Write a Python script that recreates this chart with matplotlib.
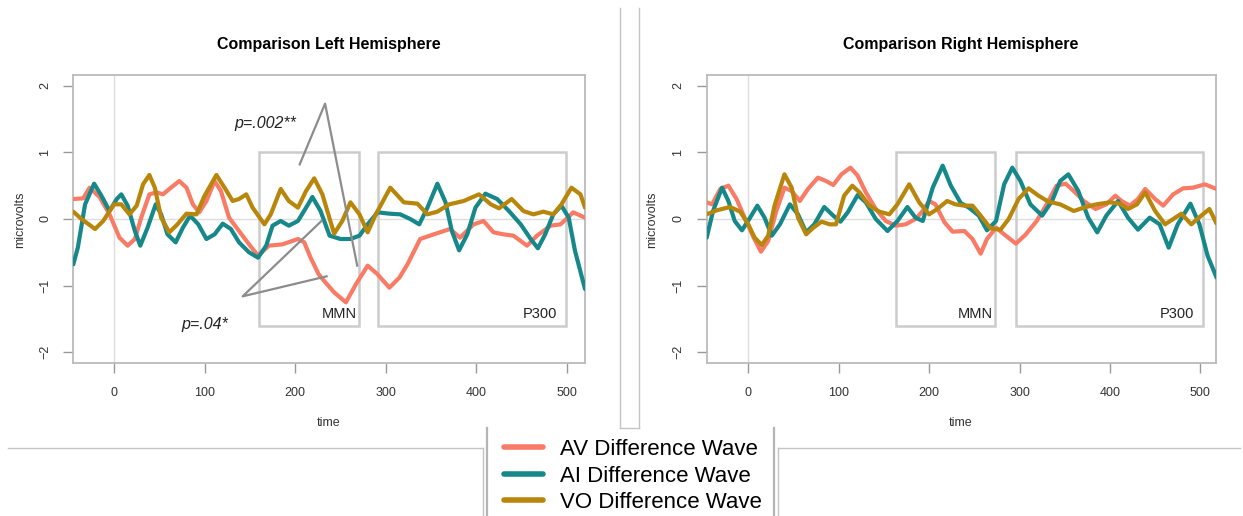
import matplotlib
matplotlib.use("Agg")
import matplotlib.pyplot as plt
from matplotlib.lines import Line2D
from matplotlib.patches import Rectangle

W, H = 1243, 516

# --- data (time in ms, amplitude in microvolts) ---
left_av_t = [-45, -34, -27, -16, -5, 6, 15, 23, 30, 39, 47, 54, 61, 72, 80, 87, 94, 102, 111, 118,
             127, 138, 149, 159, 171, 186, 203, 210, 217, 226, 232, 243, 256, 267, 280, 291, 304, 315,
             324, 338, 353, 371, 382, 397, 408, 419, 430, 441, 456, 467, 482, 493, 507, 520]
left_av_v = [0.30, 0.31, 0.47, 0.33, 0.07, -0.28, -0.40, -0.30, 0.02, 0.37, 0.40, 0.37, 0.45, 0.57,
             0.47, 0.22, 0.10, 0.27, 0.57, 0.42, 0.02, -0.18, -0.38, -0.55, -0.40, -0.38, -0.30,
             -0.35, -0.58, -0.83, -0.93, -1.10, -1.25, -0.98, -0.70, -0.83, -1.03, -0.88, -0.68,
             -0.30, -0.23, -0.15, -0.28, -0.08, -0.03, -0.20, -0.23, -0.25, -0.40, -0.25, -0.10,
             -0.08, 0.10, 0.02]

left_ai_t = [-45, -40, -32, -22, -14, -5, 3, 8, 15, 23, 29, 37, 46, 52, 59, 68, 76, 84, 93, 102,
             111, 120, 129, 138, 149, 159, 168, 175, 184, 193, 203, 212, 219, 228, 238, 250, 261,
             271, 280, 291, 304, 316, 327, 337, 346, 357, 366, 373, 381, 390, 399, 410, 423, 436,
             449, 460, 468, 476, 485, 494, 502, 509, 520]
left_ai_v = [-0.68, -0.43, 0.22, 0.53, 0.35, 0.12, 0.30, 0.37, 0.20, -0.18, -0.40, -0.13, 0.22,
             0.07, -0.23, -0.35, -0.13, 0.05, -0.08, -0.30, -0.23, -0.07, -0.15, -0.35, -0.50,
             -0.58, -0.40, -0.10, -0.03, -0.10, -0.03, 0.17, 0.33, 0.12, -0.25, -0.30, -0.30,
             -0.25, -0.08, 0.10, 0.08, 0.07, 0.0, -0.08, 0.17, 0.53, 0.25, -0.18, -0.47, -0.23,
             0.17, 0.38, 0.30, 0.12, -0.08, -0.30, -0.44, -0.23, 0.07, 0.20, 0.02, -0.48, -1.05]

left_vo_t = [-45, -36, -21, -12, 0, 8, 17, 25, 32, 39, 45, 52, 61, 70, 80, 91, 100, 113, 122, 131,
             138, 146, 153, 166, 173, 184, 193, 203, 212, 221, 230, 243, 252, 261, 271, 280, 289,
             305, 320, 335, 346, 357, 370, 386, 403, 416, 425, 439, 452, 463, 474, 485, 494, 505,
             515, 520]
left_vo_v = [0.11, 0.0, -0.15, -0.03, 0.22, 0.22, 0.07, 0.20, 0.52, 0.66, 0.47, 0.02, -0.20, -0.08,
             0.08, 0.07, 0.35, 0.66, 0.47, 0.27, 0.30, 0.37, 0.17, -0.08, 0.07, 0.45, 0.27, 0.17,
             0.42, 0.61, 0.37, -0.22, -0.03, 0.25, 0.07, -0.20, 0.07, 0.47, 0.25, 0.23, 0.07, 0.11,
             0.22, 0.27, 0.37, 0.22, 0.16, 0.30, 0.12, 0.07, 0.11, 0.07, 0.22, 0.47, 0.37, 0.17]

right_av_t = [-46, -40, -31, -22, -13, -4, 6, 14, 22, 31, 40, 48, 57, 66, 77, 86, 94, 103, 113, 121,
              130, 141, 152, 163, 174, 185, 193, 200, 207, 217, 226, 239, 248, 257, 264, 274, 283,
              296, 307, 319, 330, 341, 351, 360, 371, 384, 396, 406, 413, 422, 431, 439, 450, 459,
              470, 481, 492, 505, 518]
right_av_v = [0.25, 0.22, 0.45, 0.50, 0.30, 0.02, -0.28, -0.49, -0.33, 0.12, 0.47, 0.42, 0.27, 0.45,
              0.62, 0.57, 0.51, 0.67, 0.77, 0.65, 0.40, 0.15, -0.03, -0.10, -0.08, 0.0, 0.12, 0.27,
              0.22, -0.05, -0.19, -0.18, -0.30, -0.52, -0.30, -0.13, -0.23, -0.37, -0.23, -0.03,
              0.22, 0.50, 0.53, 0.42, 0.27, 0.15, 0.22, 0.35, 0.27, 0.20, 0.30, 0.45, 0.30, 0.20,
              0.37, 0.46, 0.47, 0.52, 0.45]

right_ai_t = [-46, -39, -29, -22, -15, -7, 2, 10, 18, 26, 35, 46, 55, 64, 73, 84, 94, 102, 110, 121,
              130, 141, 154, 165, 176, 185, 193, 204, 215, 224, 235, 244, 255, 264, 274, 283, 292,
              301, 312, 325, 336, 345, 354, 365, 376, 386, 396, 409, 420, 431, 444, 455, 465, 475,
              489, 499, 508, 518]
right_ai_v = [-0.28, 0.12, 0.47, 0.27, -0.03, -0.17, 0.02, 0.20, 0.02, -0.25, -0.08, 0.22, 0.07,
              -0.20, -0.08, 0.18, 0.05, -0.04, 0.10, 0.36, 0.25, 0.0, -0.18, -0.03, 0.18, 0.02,
              -0.03, 0.47, 0.80, 0.50, 0.24, 0.17, 0.05, -0.17, -0.03, 0.52, 0.77, 0.57, 0.22, 0.05,
              0.27, 0.57, 0.67, 0.42, 0.02, -0.20, 0.05, 0.27, 0.02, -0.16, 0.02, -0.08, -0.43,
              -0.08, 0.23, -0.08, -0.55, -0.88]

right_vo_t = [-46, -35, -20, -9, 0, 7, 15, 22, 29, 40, 48, 55, 64, 72, 81, 90, 97, 106, 115, 123,
              134, 145, 156, 165, 178, 189, 200, 209, 220, 229, 239, 248, 257, 268, 279, 288, 299,
              310, 321, 332, 345, 360, 371, 385, 400, 411, 420, 430, 439, 450, 461, 470, 479, 490,
              501, 510, 518]
right_vo_v = [0.07, 0.13, 0.18, 0.11, -0.08, -0.28, -0.39, -0.25, 0.20, 0.67, 0.47, 0.02, -0.23,
              -0.13, -0.04, -0.08, -0.08, 0.35, 0.50, 0.40, 0.20, 0.11, 0.07, 0.22, 0.52, 0.25,
              0.07, 0.15, 0.27, 0.22, 0.20, 0.20, 0.05, -0.14, -0.16, 0.0, 0.30, 0.46, 0.35, 0.26,
              0.22, 0.12, 0.17, 0.22, 0.25, 0.23, 0.15, 0.22, 0.40, 0.12, -0.08, 0.0, 0.08, -0.08,
              0.05, 0.15, -0.07]

series_names = ["AV Difference Wave", "AI Difference Wave", "VO Difference Wave"]
series_colors = ["#F97B66", "#16888A", "#B8860B"]
titles = ["Comparison Left Hemisphere", "Comparison Right Hemisphere"]

# windows (start, end) in ms
left_windows = {"MMN": (160, 270), "P300": (291, 499)}
right_windows = {"MMN": (163, 273), "P300": (296, 503)}


def fx(px):
    return px / W


def fy(py):
    return 1 - py / H


plt.rcParams['font.family'] = ['Liberation Sans', 'DejaVu Sans']
fig = plt.figure(figsize=(W / 100, H / 100), dpi=100)

ax_l = fig.add_axes([fx(73.3), fy(363), fx(585 - 73.3), (363 - 75) / H])
ax_r = fig.add_axes([fx(706.7), fy(363), fx(1215.7 - 706.7), (363 - 75) / H])

panels = [
    (ax_l, [(left_av_t, left_av_v), (left_ai_t, left_ai_v), (left_vo_t, left_vo_v)], left_windows, (-45, 520)),
    (ax_r, [(right_av_t, right_av_v), (right_ai_t, right_ai_v), (right_vo_t, right_vo_v)], right_windows, (-46, 517)),
]

handles = []
for ax, data, windows, xl in panels:
    ax.set_xlim(*xl)
    ax.set_ylim(-2.16, 2.16)
    ax.axhline(0, color="#DDDDDD", lw=1, zorder=0)
    ax.axvline(0, color="#DDDDDD", lw=1, zorder=0)
    for name, (a, b) in windows.items():
        ax.add_patch(Rectangle((a, -1.6), b - a, 2.6, fill=False, ec="#CCCCCC", lw=1.8, zorder=1))
        off = 2 if name == "MMN" else 10
        ax.text(b - off, -1.42, name, ha="right", va="center", fontsize=10.5, color="#222222")
    hs = []
    for (t, v), c in zip(data, series_colors):
        h, = ax.plot(t, v, color=c, lw=3, solid_joinstyle="round", solid_capstyle="round", zorder=3)
        hs.append(h)
    handles = hs
    ax.set_xticks([0, 100, 200, 300, 400, 500])
    ax.set_yticks([-2, -1, 0, 1, 2])
    ax.tick_params(axis="both", colors="#999999", labelcolor="#333333", labelsize=9,
                   length=7, width=1)
    ax.tick_params(axis="x", pad=10)
    ax.tick_params(axis="y", pad=9)
    for lab in ax.get_yticklabels():
        lab.set_rotation(90)
        lab.set_va("center")
    for s in ax.spines.values():
        s.set_color("#BBBBBB")
        s.set_linewidth(1.3)

# annotations on the left panel
ax_l.plot([205, 233, 268.5], [0.82, 1.73, -0.70], color="#8C8C8C", lw=1.6, zorder=4)
ax_l.plot([229, 142, 234.7], [-0.03, -1.16, -0.86], color="#8C8C8C", lw=1.6, zorder=4)
ax_l.text(166.5, 1.43, "p=.002**", style="italic", fontsize=11.5, ha="center", va="center", color="#222222")
ax_l.text(100, -1.58, "p=.04*", style="italic", fontsize=11.5, ha="center", va="center", color="#222222")

# titles and axis labels
for cx, title in zip([329, 961], titles):
    fig.text(fx(cx), fy(44), title, ha="center", va="center", fontsize=11.5, fontweight="bold",
             family=['Liberation Sans Narrow', 'Liberation Sans', 'DejaVu Sans'])
    fig.text(fx(cx), fy(423), "time", ha="center", va="center", fontsize=9, color="#333333")
for cx in [20, 652]:
    fig.text(fx(cx), fy(219.7), "microvolts", ha="center", va="center", rotation=90,
             fontsize=9, color="#333333")

# legend
fig.legend(handles, series_names, loc="center left", bbox_to_anchor=(fx(504), fy(476)),
           frameon=False, fontsize=16, handlelength=1.75, handletextpad=0.75,
           labelspacing=0.25, borderpad=0, borderaxespad=0)
for h in fig.legends[0].get_lines():
    h.set_linewidth(4)

# page decorations
deco = "#C4C4C4"


def seg(x0, y0, x1, y1, lw=1, c=deco):
    fig.add_artist(Line2D([fx(x0), fx(x1)], [fy(y0), fy(y1)], color=c, lw=lw))


seg(620, 8, 620, 428)
seg(639, 8, 639, 428)
seg(620, 428, 639, 428)
seg(8, 447.5, 483, 447.5)
seg(483, 447.5, 483, 516)
seg(778, 447.5, 1240, 447.5)
seg(778, 447.5, 778, 516)
seg(487, 428, 487, 516, lw=1.6, c="#B5B5B5")
seg(774, 428, 774, 516, lw=1.6, c="#B5B5B5")

fig.savefig("out.png", dpi=100)
